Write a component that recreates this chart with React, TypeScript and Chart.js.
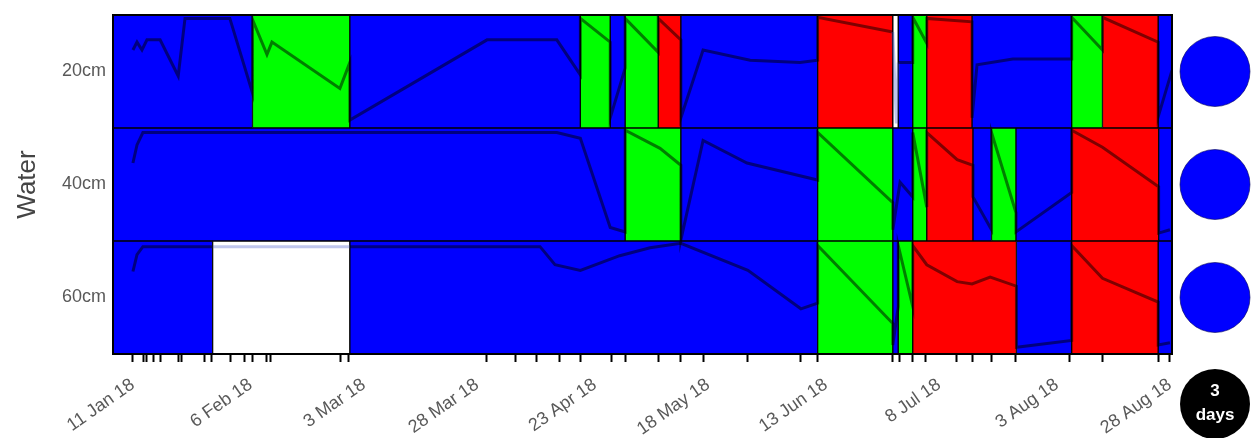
import React, { useEffect, useRef } from 'react';
import { Chart, registerables } from 'chart.js';

Chart.register(...registerables);

// ---------- data ----------
const depthLabels = ['20cm', '40cm', '60cm'];
const axisTitle = 'Water';

// day numbers = days since 1 Jan 2018
const tickDays = [10, 36, 61, 86, 112, 137, 163, 188, 214, 239];
const tickLabels = ['11 Jan 18', '6 Feb 18', '3 Mar 18', '28 Mar 18', '23 Apr 18', '18 May 18', '13 Jun 18', '8 Jul 18', '3 Aug 18', '28 Aug 18'];

// measurement dates shown as small tick marks
const markDays = [10, 12.3, 12.9, 14.5, 16, 20, 20.8, 25.9, 27.4, 31.6, 34.7, 36.4, 39.5, 40.4, 55.9, 57.5, 88.1, 94.4, 99.2, 104.1, 108.8, 115.6, 118.7, 126, 131, 135.9, 145.8, 157.5, 161.1, 177.8, 179.2, 182.1, 185.1, 191.8, 195.5, 199.5, 205, 216.9, 224, 236.4, 239];

const dayMin = 5.6;
const dayMax = 239.45;

// status segments per depth: boundaries (n+1) and status codes (n)
const seg20Bounds = [5.6, 36.4, 57.9, 108.8, 115.4, 118.7, 126, 131, 161.2, 177.8, 179, 182.2, 185.3, 195.3, 217.3, 224.1, 236.4, 239.45];
const seg20Status = ['b', 'g', 'b', 'g', 'b', 'g', 'r', 'b', 'r', 'w', 'b', 'g', 'r', 'b', 'g', 'r', 'b'];

const seg40Bounds = [5.6, 118.7, 131, 161.2, 177.8, 182.2, 185.3, 195.5, 199.6, 205, 217.3, 236.5, 239.45];
const seg40Status = ['b', 'g', 'b', 'g', 'b', 'g', 'r', 'b', 'g', 'b', 'r', 'b'];

const seg60Bounds = [5.6, 27.6, 57.9, 161.2, 177.8, 179, 182.2, 205.1, 217.3, 236.4, 239.45];
const seg60Status = ['b', 'w', 'b', 'g', 'b', 'g', 'r', 'b', 'r', 'b'];

// water level lines (percent of band height)
const line20Days = [10, 10.9, 12, 13.1, 16, 20, 21.5, 31.4, 36.4, 36.4, 39.6, 40.7, 55.7, 57.9, 57.9, 88.2, 103.6, 108.8, 108.8, 115.4, 115.4, 118.7, 118.7, 126, 126, 131, 131, 135.9, 146.3, 157.3, 161.2, 161.2, 177.8, 178.6, 179, 182.2, 182.2, 185.3, 185.3, 195.3, 195.3, 196.4, 204.3, 217.3, 217.3, 224.1, 224.1, 236.4, 236.4, 239.45];
const line20Values = [69, 76, 69, 78, 78, 46, 97, 97, 31, 96, 65, 76, 35, 58, 7, 78, 78, 47, 97, 76, 9, 53, 97, 67, 97, 78, 9, 69, 60, 58, 60, 98, 85, 4, 58, 58, 98, 75, 97, 94, 9, 56, 61, 61, 98, 69, 98, 76, 10, 51];

const line40Days = [10, 10.9, 12.2, 103.6, 108.8, 115.4, 118.7, 118.7, 126.4, 131, 131, 135.9, 145.6, 161.2, 161.2, 177.8, 177.8, 179.4, 182.2, 182.2, 185.3, 185.3, 192, 195.5, 195.5, 199.6, 199.6, 205, 205, 217.3, 217.3, 224.1, 236.5, 236.5, 239];
const line40Values = [69, 85, 96, 96, 91, 12, 8, 98, 82, 67, 1, 89, 69, 54, 96, 34, 10, 52, 39, 96, 30, 96, 72, 67, 39, 10, 96, 25, 8, 43, 98, 83, 48, 7, 10];

const line60Days = [10, 10.9, 12.2, 27.6, 57.9, 99.9, 103.2, 108.8, 117.5, 124.2, 131, 145.8, 157.5, 161.2, 161.2, 177.8, 177.8, 179, 179, 182.2, 182.2, 185.3, 192, 195.3, 199.3, 205.1, 205.1, 217.3, 217.3, 224.1, 236.4, 236.4, 239];
const line60Values = [73, 88, 95, 95, 95, 95, 79, 74, 87, 94, 98, 74, 40, 45, 96, 27, 8, 42, 96, 42, 96, 79, 64, 62, 68, 60, 6, 12, 96, 67, 46, 8, 10];

// current status per depth and the badge
const currentStatus = ['b', 'b', 'b'];
const badgeLines = ['3', 'days'];

// ---------- component ----------
export default function App() {
  const canvasRef = useRef<HTMLCanvasElement | null>(null);

  useEffect(() => {
    document.body.style.margin = '0';
    document.body.style.overflow = 'hidden';
    Chart.defaults.font.family = '"Liberation Sans", Arial, sans-serif';

    const colorOf: Record<string, string> = { b: '#0000ff', g: '#00ff00', r: '#ff0000', w: '#ffffff' };
    const rows = [
      { base: 2, bounds: seg20Bounds, status: seg20Status, days: line20Days, values: line20Values },
      { base: 1, bounds: seg40Bounds, status: seg40Status, days: line40Days, values: line40Values },
      { base: 0, bounds: seg60Bounds, status: seg60Status, days: line60Days, values: line60Values },
    ];

    const barData: any[] = [];
    const barColors: string[] = [];
    rows.forEach((row) => {
      row.status.forEach((s, i) => {
        barData.push({ y: row.base + 0.5, x: [row.bounds[i], row.bounds[i + 1]] });
        barColors.push(colorOf[s]);
      });
    });

    const statusAt = (row: any, x: number) => {
      for (let i = 0; i < row.status.length; i++) {
        if (x >= row.bounds[i] && x <= row.bounds[i + 1]) return row.status[i];
      }
      return 'b';
    };

    const lineSets = rows.map((row) => ({
      type: 'line',
      data: row.days.map((d, i) => ({ x: d, y: row.base + row.values[i] / 100 })),
      borderColor: 'rgba(0,0,0,0.5)',
      borderWidth: 3,
      pointRadius: 0,
      fill: false,
      tension: 0,
      order: 1,
      segment: {
        borderColor: (ctx: any) => {
          const mid = (ctx.p0.parsed.x + ctx.p1.parsed.x) / 2;
          return statusAt(row, mid) === 'w' ? 'rgba(70,90,200,0.35)' : 'rgba(0,0,0,0.5)';
        },
      },
    }));

    const allTicks = Array.from(new Set([...tickDays, ...markDays])).sort((a, b) => a - b);

    const framePlugin = {
      id: 'frame',
      afterDatasetsDraw(chart: any) {
        const { ctx, chartArea } = chart;
        ctx.save();
        ctx.strokeStyle = '#000';
        ctx.lineWidth = 2;
        ctx.strokeRect(chartArea.left, chartArea.top, chartArea.right - chartArea.left, chartArea.bottom - chartArea.top);
        ctx.restore();
      },
    };

    // status indicators placed right of the plot, one per depth band (y from the y scale)
    const statusPlugin = {
      id: 'status',
      afterDraw(chart: any) {
        const { ctx, chartArea, scales } = chart;
        const cx = chartArea.right + 43;
        const r = 35;
        ctx.save();
        rows.forEach((row, i) => {
          const cy = scales.y.getPixelForValue(row.base + 0.5);
          ctx.beginPath();
          ctx.arc(cx, cy, r, 0, Math.PI * 2);
          ctx.fillStyle = colorOf[currentStatus[i]];
          ctx.fill();
          ctx.lineWidth = 1;
          ctx.strokeStyle = 'rgba(0,0,90,0.6)';
          ctx.stroke();
        });
        const by = chartArea.bottom + 50;
        ctx.beginPath();
        ctx.arc(cx, by, r, 0, Math.PI * 2);
        ctx.fillStyle = '#000';
        ctx.fill();
        ctx.fillStyle = '#fff';
        ctx.font = 'bold 17px "Liberation Sans", Arial, sans-serif';
        ctx.textAlign = 'center';
        ctx.textBaseline = 'middle';
        ctx.fillText(badgeLines[0], cx, by - 13);
        ctx.fillText(badgeLines[1], cx, by + 11);
        ctx.restore();
      },
    };

    const chart = new Chart(canvasRef.current as HTMLCanvasElement, {
      type: 'bar',
      data: {
        datasets: [
          {
            type: 'bar',
            indexAxis: 'y',
            data: barData,
            backgroundColor: barColors,
            borderColor: '#000',
            borderWidth: 1,
            borderSkipped: false,
            barPercentage: 1,
            categoryPercentage: 1,
            order: 2,
          } as any,
          ...(lineSets as any[]),
        ],
      },
      options: {
        animation: false,
        responsive: true,
        maintainAspectRatio: false,
        events: [],
        layout: { padding: { top: 15, right: 81, left: 0, bottom: 0 } },
        plugins: { legend: { display: false }, tooltip: { enabled: false } },
        scales: {
          x: {
            type: 'linear',
            min: dayMin,
            max: dayMax,
            offset: false,
            afterBuildTicks: (s: any) => {
              s.ticks = allTicks.map((v) => ({ value: v }));
            },
            afterFit: (s: any) => {
              s.height = 84;
            },
            grid: {
              offset: false,
              drawOnChartArea: false,
              drawTicks: true,
              tickLength: 8,
              tickWidth: 2,
              tickColor: (ctx: any) => (ctx.tick && markDays.includes(ctx.tick.value) ? '#000' : 'rgba(0,0,0,0)'),
            },
            border: { display: false },
            ticks: {
              autoSkip: false,
              minRotation: 35,
              maxRotation: 35,
              color: '#595959',
              font: { size: 18 },
              padding: 12,
              callback: (v: any) => {
                const i = tickDays.indexOf(v);
                return i >= 0 ? tickLabels[i] : '';
              },
            },
          },
          y: {
            type: 'linear',
            min: 0,
            max: 3,
            offset: false,
            afterBuildTicks: (s: any) => {
              s.ticks = [0.5, 1.5, 2.5].map((v) => ({ value: v }));
            },
            afterFit: (s: any) => {
              s.width = 113;
              s.paddingTop = 0;
              s.paddingBottom = 0;
            },
            grid: { display: false, drawTicks: false, offset: false },
            border: { display: false },
            ticks: {
              color: '#595959',
              font: { size: 18 },
              padding: 7,
              callback: (v: any) => depthLabels[2 - Math.floor(v)],
            },
            title: {
              display: true,
              text: axisTitle,
              color: '#444',
              font: { size: 26 },
              padding: { top: 12, bottom: 0 },
            },
          },
        },
      } as any,
      plugins: [framePlugin, statusPlugin],
    } as any);

    return () => chart.destroy();
  }, []);

  return (
    <div style={{ width: '1253px', height: '438px', position: 'relative' }}>
      <canvas ref={canvasRef} />
    </div>
  );
}
